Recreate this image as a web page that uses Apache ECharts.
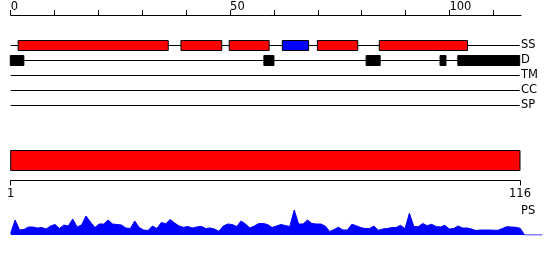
<!DOCTYPE html>
<html><head><meta charset="utf-8">
<script src="https://cdn.jsdelivr.net/npm/echarts@6/dist/echarts.min.js"></script>
<style>html,body{margin:0;padding:0;background:#fff}#c{width:550px;height:260px}</style>
</head><body><div id="c"></div>
<script>
// ---- data ----
const trackNames = ['SS', 'D', 'TM', 'CC', 'SP'];
const trackStart = 0;
const trackEnd = 116;
const topTickValues = [0, 10, 20, 30, 40, 50, 60, 70, 80, 90, 100, 110];
const topLabelValues = [0, 50, 100];
const ssStart = [1.7, 38.8, 49.8, 61.9, 69.9, 84.0];
const ssEnd = [35.9, 48.1, 58.9, 67.9, 79.1, 104.1];
const ssType = ['helix', 'helix', 'helix', 'strand', 'helix', 'helix'];
const dStart = [-0.1, 57.7, 81.0, 97.85, 101.9];
const dEnd = [3.0, 60.0, 84.2, 99.2, 116.0];
const domainStart = [1];
const domainEnd = [116];
const bottomLabelValues = [1, 116];
const psResidues = [];
for (let i = 1; i <= 121; i++) psResidues.push(i);
const psValues = [
  2, 15, 5, 5.5, 8, 8, 7, 7.5, 6, 9,
  10.5, 6.5, 10, 9, 16, 8, 10, 19, 13, 7.5,
  11, 11, 15, 11, 10.5, 10, 7, 6.5, 14, 7.5,
  5, 4.5, 9, 6.5, 12.5, 11.3, 15.5, 12, 9, 7.7,
  8.5, 7, 8, 8.7, 6.5, 7, 6, 3.7, 9, 11,
  10.5, 8.5, 14, 11, 7, 9, 11.5, 11.5, 10.5, 7.5,
  9, 10.5, 9.5, 8.5, 25, 11, 11, 15, 11.5, 11,
  11, 9, 3.5, 5.5, 7.7, 5, 5, 10.7, 9.3, 7.5,
  6.5, 6.5, 9, 4.7, 6, 6.5, 7.5, 7.5, 9.7, 6.3,
  21.7, 8.5, 8.3, 11.5, 9.3, 10.7, 8.5, 8, 9.7, 6,
  6.5, 9, 7, 7, 6, 4.5, 5, 5, 5, 4.8,
  4.7, 6.5, 8.3, 8, 7.7, 6.7, 0, 0, 0, 0, 0
];

const FONT = 'DejaVu Sans';
const chart = echarts.init(document.getElementById('c'), null, {renderer: 'canvas'});

const trackData = trackNames.map((n, i) => [trackStart, trackEnd, i]);
const ssData = ssStart.map((s, i) => [s, ssEnd[i], 0, ssType[i]]);
const dData = dStart.map((s, i) => [s, dEnd[i], 1]);

function lineItem(params, api) {
  const a = api.coord([api.value(0), api.value(2)]);
  const b = api.coord([api.value(1), api.value(2)]);
  return {type: 'line', shape: {x1: a[0], y1: a[1], x2: b[0], y2: b[1]},
    style: {stroke: '#000', lineWidth: 1}};
}
function rectItem(fillFn) {
  return function (params, api) {
    const a = api.coord([api.value(0), api.value(2)]);
    const b = api.coord([api.value(1), api.value(2)]);
    return {type: 'rect', shape: {x: a[0], y: a[1] - 5, width: b[0] - a[0], height: 10},
      style: {fill: fillFn(api, params), stroke: '#000', lineWidth: 1}};
  };
}

const option = {
  backgroundColor: '#fff',
  animation: false,
  grid: [
    {left: 10.7, width: 510.3, top: 38, height: 75},
    {left: 10.7, width: 509.3, top: 150.5, height: 20},
    {left: 10.7, width: 531.6, top: 208, height: 27}
  ],
  xAxis: [
    {gridIndex: 0, type: 'value', min: 0, max: 116.3, position: 'top', offset: 23,
      splitLine: {show: false},
      axisLine: {show: true, onZero: false, lineStyle: {color: '#000', width: 1}},
      axisTick: {show: true, customValues: topTickValues, length: 5, lineStyle: {color: '#000'}},
      axisLabel: {customValues: topLabelValues, align: 'left', margin: 2, color: '#000',
        fontFamily: FONT, fontSize: 11.5}},
    {gridIndex: 1, type: 'value', min: 1, max: 116, position: 'bottom', offset: 10,
      splitLine: {show: false},
      axisLine: {show: true, onZero: false, lineStyle: {color: '#000', width: 1}},
      axisTick: {show: true, customValues: bottomLabelValues, length: 5, lineStyle: {color: '#000'}},
      axisLabel: {customValues: bottomLabelValues, margin: 8, color: '#000',
        fontFamily: FONT, fontSize: 11.5}},
    {gridIndex: 2, type: 'value', min: 1, max: 121, show: false}
  ],
  yAxis: [
    {gridIndex: 0, type: 'category', data: trackNames, inverse: true, position: 'right',
      axisLine: {show: false}, axisTick: {show: false}, splitLine: {show: false},
      axisLabel: {interval: 0, margin: 0, color: '#000', fontFamily: FONT, fontSize: 11.5}},
    {gridIndex: 1, type: 'value', min: 0, max: 1, show: false},
    {gridIndex: 2, type: 'value', min: 0, max: 27, show: false}
  ],
  graphic: [
    {type: 'text', left: 521, top: 205,
      style: {text: 'PS', fill: '#000', font: '11.5px "DejaVu Sans"'}}
  ],
  series: [
    {type: 'custom', xAxisIndex: 0, yAxisIndex: 0, renderItem: lineItem, data: trackData, silent: true},
    {type: 'custom', xAxisIndex: 0, yAxisIndex: 0,
      renderItem: rectItem((api, p) => ssData[p.dataIndex][3] === 'strand' ? '#0000ff' : '#ff0000'),
      data: ssData, silent: true},
    {type: 'custom', xAxisIndex: 0, yAxisIndex: 0, renderItem: rectItem(() => '#000'), data: dData, silent: true},
    {type: 'custom', xAxisIndex: 1, yAxisIndex: 1, silent: true,
      data: domainStart.map((s, i) => [s, domainEnd[i]]),
      renderItem: function (params, api) {
        const a = api.coord([api.value(0), 1]);
        const b = api.coord([api.value(1), 0]);
        return {type: 'rect', shape: {x: a[0], y: a[1], width: b[0] - a[0], height: b[1] - a[1]},
          style: {fill: '#ff0000', stroke: '#000', lineWidth: 1}};
      }},
    {type: 'line', xAxisIndex: 2, yAxisIndex: 2, showSymbol: false, symbol: 'none',
      data: psResidues.map((r, i) => [r, psValues[i]]),
      lineStyle: {color: '#0000ff', width: 1}, areaStyle: {color: '#0000ff', opacity: 1},
      silent: true}
  ]
};
chart.setOption(option);
</script></body></html>
